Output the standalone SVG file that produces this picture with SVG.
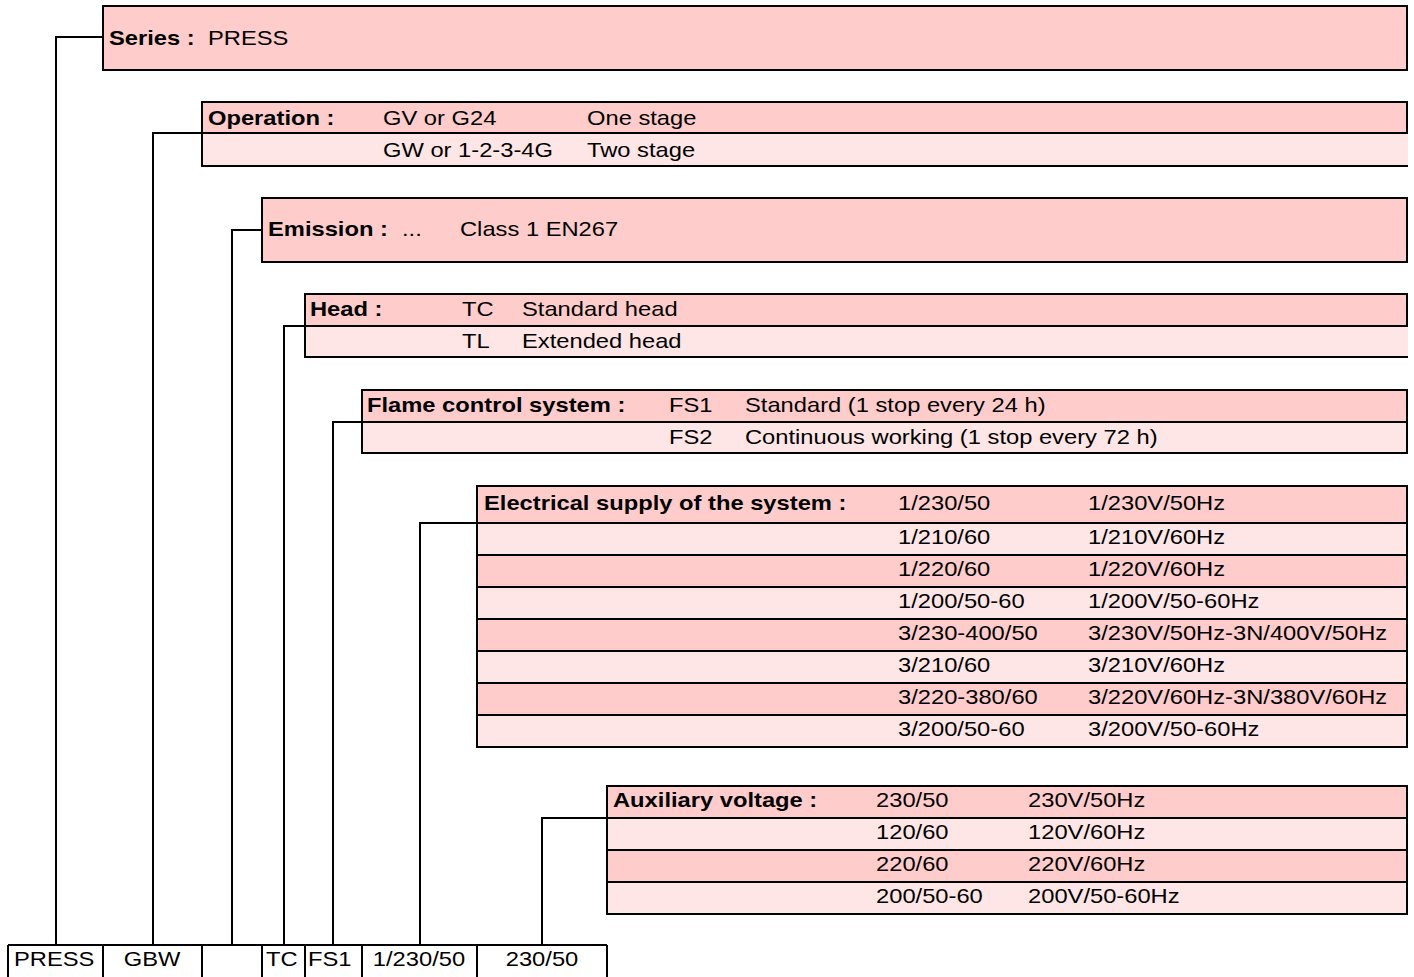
<svg xmlns="http://www.w3.org/2000/svg" width="1414" height="977" viewBox="0 0 1414 977">
<style>
.dk{fill:#FFCCCC;stroke:none}
.lt{fill:#FFE6E6;stroke:none}
.bd{fill:none;stroke:#000;stroke-width:2}
.cn{fill:none;stroke:#000;stroke-width:2}
text{font-family:"Liberation Sans",Arial,Helvetica,sans-serif;font-size:21px;fill:#000}
.b{font-weight:bold}
.m{text-anchor:middle}
</style>
<rect width="1414" height="977" fill="#fff"/>
<g id="connectors">
<path class="cn" d="M56,945 V37 H103"/>
<path class="cn" d="M153,945 V133 H202"/>
<path class="cn" d="M232,945 V230 H262"/>
<path class="cn" d="M284,945 V326 H305"/>
<path class="cn" d="M333,945 V422 H362"/>
<path class="cn" d="M420,945 V523 H477"/>
<path class="cn" d="M542,945 V818 H607"/>
</g>
<g id="series">
<rect class="dk" x="103" y="6" width="1304" height="64"/>
<rect class="bd" x="103" y="6" width="1304" height="64"/>
<text class="b" transform="matrix(1.13 0 0 1 109 45)">Series :</text>
<text transform="matrix(1.13 0 0 1 208 45)">PRESS</text>
</g>
<g id="operation">
<rect class="dk" x="202" y="102" width="1205" height="31"/>
<rect class="lt" x="202" y="133" width="1206" height="33"/>
<path class="bd" d="M1408,166 H202 V102 H1407 V133 H202"/>
<text class="b" transform="matrix(1.13 0 0 1 208 125)">Operation :</text>
<text transform="matrix(1.13 0 0 1 383 125)">GV or G24</text>
<text transform="matrix(1.13 0 0 1 587 125)">One stage</text>
<text transform="matrix(1.13 0 0 1 383 157)">GW or 1-2-3-4G</text>
<text transform="matrix(1.13 0 0 1 587 157)">Two stage</text>
</g>
<g id="emission">
<rect class="dk" x="262" y="198" width="1145" height="64"/>
<rect class="bd" x="262" y="198" width="1145" height="64"/>
<text class="b" transform="matrix(1.13 0 0 1 268 236)">Emission :</text>
<text transform="matrix(1.13 0 0 1 402 236)">...</text>
<text transform="matrix(1.13 0 0 1 460 236)">Class 1 EN267</text>
</g>
<g id="head">
<rect class="dk" x="305" y="294" width="1102" height="32"/>
<rect class="lt" x="305" y="326" width="1103" height="31"/>
<path class="bd" d="M1408,357 H305 V294 H1407 V326 H305"/>
<text class="b" transform="matrix(1.13 0 0 1 310 316)">Head :</text>
<text transform="matrix(1.13 0 0 1 462 316)">TC</text>
<text transform="matrix(1.13 0 0 1 522 316)">Standard head</text>
<text transform="matrix(1.13 0 0 1 462 348)">TL</text>
<text transform="matrix(1.13 0 0 1 522 348)">Extended head</text>
</g>
<g id="flame">
<rect class="dk" x="362" y="390" width="1045" height="32"/>
<rect class="lt" x="362" y="422" width="1045" height="31"/>
<rect class="bd" x="362" y="390" width="1045" height="63"/>
<path class="bd" d="M362,422 H1407"/>
<text class="b" transform="matrix(1.13 0 0 1 367 412)">Flame control system :</text>
<text transform="matrix(1.13 0 0 1 669 412)">FS1</text>
<text transform="matrix(1.13 0 0 1 745 412)">Standard (1 stop every 24 h)</text>
<text transform="matrix(1.13 0 0 1 669 444)">FS2</text>
<text transform="matrix(1.13 0 0 1 745 444)">Continuous working (1 stop every 72 h)</text>
</g>
<g id="electrical">
<rect class="dk" x="477" y="486" width="930" height="37"/>
<rect class="lt" x="477" y="523" width="930" height="32"/>
<rect class="dk" x="477" y="555" width="930" height="32"/>
<rect class="lt" x="477" y="587" width="930" height="32"/>
<rect class="dk" x="477" y="619" width="930" height="32"/>
<rect class="lt" x="477" y="651" width="930" height="32"/>
<rect class="dk" x="477" y="683" width="930" height="32"/>
<rect class="lt" x="477" y="715" width="930" height="32"/>
<rect class="bd" x="477" y="486" width="930" height="261"/>
<path class="bd" d="M477,523 H1407 M477,555 H1407 M477,587 H1407 M477,619 H1407 M477,651 H1407 M477,683 H1407 M477,715 H1407"/>
<text class="b" transform="matrix(1.13 0 0 1 484 510)">Electrical supply of the system :</text>
<text transform="matrix(1.13 0 0 1 898 510)">1/230/50</text>
<text transform="matrix(1.13 0 0 1 1088 510)">1/230V/50Hz</text>
<text transform="matrix(1.13 0 0 1 898 544)">1/210/60</text>
<text transform="matrix(1.13 0 0 1 1088 544)">1/210V/60Hz</text>
<text transform="matrix(1.13 0 0 1 898 576)">1/220/60</text>
<text transform="matrix(1.13 0 0 1 1088 576)">1/220V/60Hz</text>
<text transform="matrix(1.13 0 0 1 898 608)">1/200/50-60</text>
<text transform="matrix(1.13 0 0 1 1088 608)">1/200V/50-60Hz</text>
<text transform="matrix(1.13 0 0 1 898 640)">3/230-400/50</text>
<text transform="matrix(1.13 0 0 1 1088 640)">3/230V/50Hz-3N/400V/50Hz</text>
<text transform="matrix(1.13 0 0 1 898 672)">3/210/60</text>
<text transform="matrix(1.13 0 0 1 1088 672)">3/210V/60Hz</text>
<text transform="matrix(1.13 0 0 1 898 704)">3/220-380/60</text>
<text transform="matrix(1.13 0 0 1 1088 704)">3/220V/60Hz-3N/380V/60Hz</text>
<text transform="matrix(1.13 0 0 1 898 736)">3/200/50-60</text>
<text transform="matrix(1.13 0 0 1 1088 736)">3/200V/50-60Hz</text>
</g>
<g id="auxiliary">
<rect class="dk" x="607" y="786" width="800" height="32"/>
<rect class="lt" x="607" y="818" width="800" height="32"/>
<rect class="dk" x="607" y="850" width="800" height="32"/>
<rect class="lt" x="607" y="882" width="800" height="32"/>
<rect class="bd" x="607" y="786" width="800" height="128"/>
<path class="bd" d="M607,818 H1407 M607,850 H1407 M607,882 H1407"/>
<text class="b" transform="matrix(1.13 0 0 1 613 807)">Auxiliary voltage :</text>
<text transform="matrix(1.13 0 0 1 876 807)">230/50</text>
<text transform="matrix(1.13 0 0 1 1028 807)">230V/50Hz</text>
<text transform="matrix(1.13 0 0 1 876 839)">120/60</text>
<text transform="matrix(1.13 0 0 1 1028 839)">120V/60Hz</text>
<text transform="matrix(1.13 0 0 1 876 871)">220/60</text>
<text transform="matrix(1.13 0 0 1 1028 871)">220V/60Hz</text>
<text transform="matrix(1.13 0 0 1 876 903)">200/50-60</text>
<text transform="matrix(1.13 0 0 1 1028 903)">200V/50-60Hz</text>
</g>
<g id="code">
<path class="bd" d="M8,945 H607 M8,945 V980 M103,945 V980 M202,945 V980 M262,945 V980 M305,945 V980 M362,945 V980 M477,945 V980 M607,945 V980"/>
<text transform="matrix(1.13 0 0 1 14 966)">PRESS</text>
<text class="m" transform="matrix(1.13 0 0 1 152 966)">GBW</text>
<text transform="matrix(1.13 0 0 1 266 966)">TC</text>
<text transform="matrix(1.13 0 0 1 308 966)">FS1</text>
<text class="m" transform="matrix(1.13 0 0 1 419 966)">1/230/50</text>
<text class="m" transform="matrix(1.13 0 0 1 542 966)">230/50</text>
</g>
</svg>
